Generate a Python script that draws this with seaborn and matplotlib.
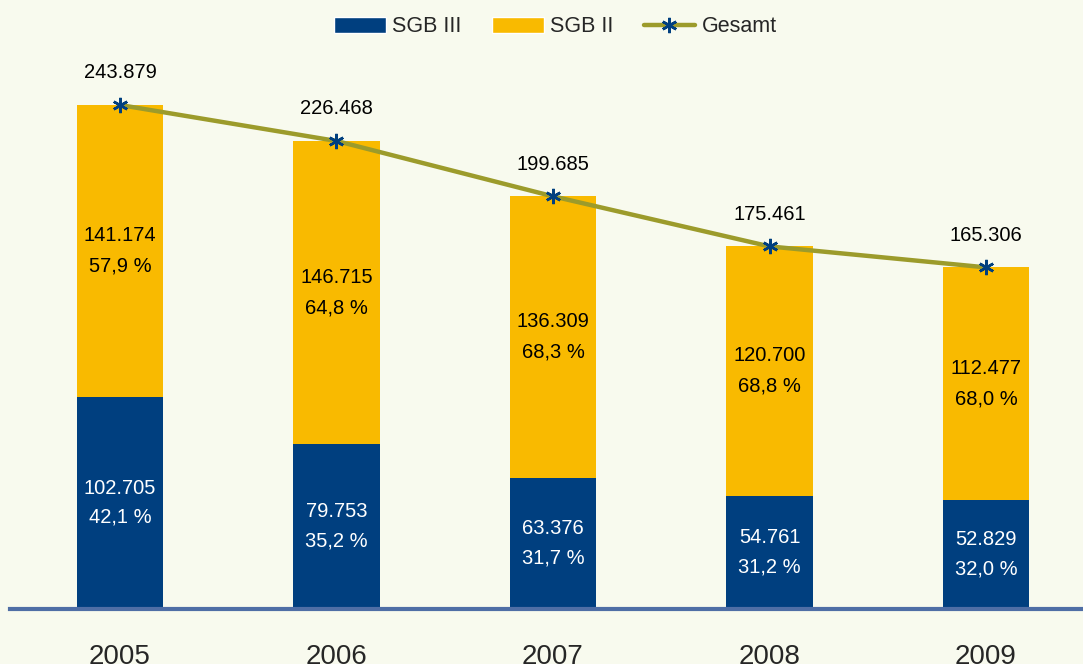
import matplotlib
matplotlib.use("Agg")
import matplotlib.pyplot as plt
import seaborn as sns
import pandas as pd
import numpy as np
from matplotlib.patches import Patch
from matplotlib.lines import Line2D

years = ["2005", "2006", "2007", "2008", "2009"]
sgb3 = [102705, 79753, 63376, 54761, 52829]
sgb2 = [141174, 146715, 136309, 120700, 112477]
gesamt = [243879, 226468, 199685, 175461, 165306]
sgb3_pct = ["42,1 %", "35,2 %", "31,7 %", "31,2 %", "32,0 %"]
sgb2_pct = ["57,9 %", "64,8 %", "68,3 %", "68,8 %", "68,0 %"]

NAVY = "#003F7F"
GOLD = "#F9BA00"
OLIVE = "#9C9B2B"
BG = "#F8FAEE"

def fmt(v):
    return f"{v:,}".replace(",", ".")

sns.set_style("white")
plt.rcParams["font.family"] = ["Liberation Sans", "DejaVu Sans"]

fig = plt.figure(figsize=(10.83, 6.64), dpi=100, facecolor=BG)
ax = fig.add_axes([10 / 1083, 55 / 664, 1 - 10 / 1083, 569 / 664])
ax.set_facecolor(BG)

df = pd.DataFrame({"Jahr": years, "SGB III": sgb3, "SGB II": sgb2, "Gesamt": gesamt})
df["Total"] = df["SGB III"] + df["SGB II"]

sns.barplot(data=df, x="Jahr", y="Total", color=GOLD, width=0.4, ax=ax,
            saturation=1, edgecolor="none")
sns.barplot(data=df, x="Jahr", y="SGB III", color=NAVY, width=0.4, ax=ax,
            saturation=1, edgecolor="none")
x = np.arange(len(years))
ax.plot(x, gesamt, color=OLIVE, lw=3.2, marker=(6, 2, 0), ms=11,
        mec=NAVY, mfc=NAVY, mew=1.8, zorder=5)

per_px = 243879 / 504.0
for i in range(len(years)):
    ax.text(i, sgb3[i] / 2, f"{fmt(sgb3[i])}\n{sgb3_pct[i]}", ha="center", va="center",
            color="white", fontsize=14.5, linespacing=1.68)
    ax.text(i, sgb3[i] + sgb2[i] / 2, f"{fmt(sgb2[i])}\n{sgb2_pct[i]}", ha="center",
            va="center", color="black", fontsize=14.5, linespacing=1.76)
    ax.text(i, gesamt[i] + 32 * per_px, fmt(gesamt[i]), ha="center", va="center",
            color="black", fontsize=14.5)

ax.set_xlim(-0.508, 4.448)
ax.set_ylim(0, 569 * per_px)
for s in ["top", "right", "left"]:
    ax.spines[s].set_visible(False)
ax.spines["bottom"].set_color("#4F6EA5")
ax.spines["bottom"].set_linewidth(3)
ax.set_yticks([])
ax.set_xlabel("")
ax.set_ylabel("")
ax.tick_params(axis="x", length=0, labelsize=20, pad=25)

handles = [Patch(facecolor=NAVY, label="SGB III"),
           Patch(facecolor=GOLD, label="SGB II"),
           Line2D([0], [0], color=OLIVE, lw=3.2, marker=(6, 2, 0), ms=11,
                  mec=NAVY, mfc=NAVY, mew=1.8, label="Gesamt")]
fig.legend(handles=handles, loc="center", bbox_to_anchor=(0.513, 1 - 27 / 664), ncol=3,
           frameon=False, fontsize=15.5, handlelength=2.4, handleheight=0.7,
           columnspacing=1.4, handletextpad=0.3)

fig.savefig("out.png", dpi=100, facecolor=BG)
